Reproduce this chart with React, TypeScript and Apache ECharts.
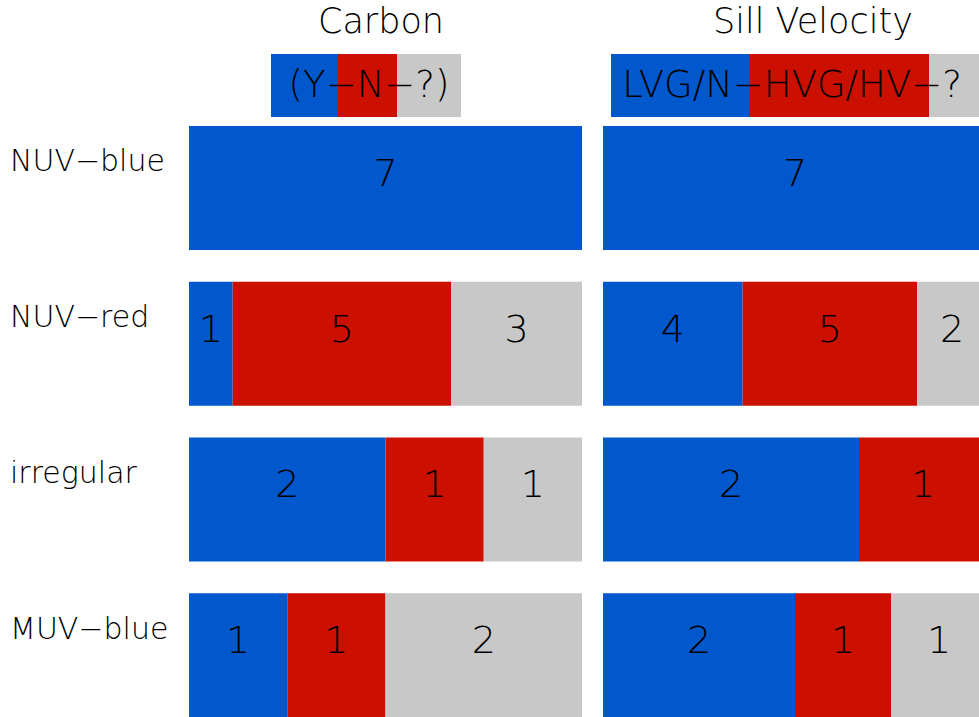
import React, { useEffect, useRef } from 'react';
import * as echarts from 'echarts';

const rowLabels = ['NUV−blue', 'NUV−red', 'irregular', 'MUV−blue'];

// Carbon: yes / no / unknown
const carbonYes = [7, 1, 2, 1];
const carbonNo = [0, 5, 1, 1];
const carbonUnknown = [0, 3, 1, 2];

// Sill velocity: LVG/N / HVG/HV / unknown
const sillLow = [7, 4, 2, 2];
const sillHigh = [0, 5, 1, 1];
const sillUnknown = [0, 2, 0, 1];

const panelTitles = ['Carbon', 'Sill Velocity'];

const BLUE = '#0058cc';
const RED = '#cc1000';
const GRAY = '#c8c8c8';
const FONT = '"DejaVu Sans", sans-serif';

const share = (arr: number[], groups: number[][]) =>
    arr.map((v, i) => {
        const total = groups.reduce((s, g) => s + g[i], 0);
        return total ? v / total : 0;
    });

const makeSeries = (groups: number[][], colors: string[], axisIndex: number) =>
    groups.map((g, k) => ({
        type: 'bar',
        stack: 'p' + axisIndex,
        xAxisIndex: axisIndex,
        yAxisIndex: axisIndex,
        barWidth: 124,
        data: share(g, groups),
        itemStyle: { color: colors[k] },
        label: {
            show: true,
            position: 'inside',
            offset: [0, -15],
            color: '#000',
            fontSize: 38,
            fontFamily: FONT,
            fontWeight: 200,
            formatter: (p: any) => (g[p.dataIndex] > 0 ? String(g[p.dataIndex]) : '')
        }
    }));

const App: React.FC = () => {
    const chartRef = useRef<HTMLDivElement | null>(null);

    useEffect(() => {
        if (!chartRef.current) return;
        const myChart = echarts.init(chartRef.current, null, { renderer: 'svg' });

        const textStyle = (size: number) => ({
            fill: '#000',
            fontSize: size,
            fontFamily: FONT,
            fontWeight: 200,
            align: 'center',
            verticalAlign: 'middle'
        });

        const option = {
            animation: false,
            backgroundColor: '#fff',
            grid: [
                { left: 189, top: 110, width: 393, height: 623, containLabel: false },
                { left: 603, top: 110, width: 384, height: 623, containLabel: false }
            ],
            xAxis: [0, 1].map((i) => ({
                type: 'value',
                gridIndex: i,
                min: 0,
                max: 1,
                show: false
            })),
            yAxis: [0, 1].map((i) => ({
                type: 'category',
                gridIndex: i,
                inverse: true,
                data: rowLabels,
                axisLine: { show: false },
                axisTick: { show: false },
                splitLine: { show: false },
                axisLabel: {
                    show: i === 0,
                    align: 'left',
                    verticalAlign: 'bottom',
                    lineHeight: 54,
                    margin: 179,
                    color: '#000',
                    fontSize: 30,
                    fontFamily: FONT,
                    fontWeight: 200
                }
            })),
            series: [
                ...makeSeries([carbonYes, carbonNo, carbonUnknown], [BLUE, RED, GRAY], 0),
                ...makeSeries([sillLow, sillHigh, sillUnknown], [BLUE, RED, GRAY], 1)
            ],
            graphic: [
                { type: 'text', x: 381, y: 21, style: { text: panelTitles[0], ...textStyle(35) } },
                { type: 'text', x: 813, y: 21, style: { text: panelTitles[1], ...textStyle(35) } },
                { type: 'rect', shape: { x: 271, y: 54, width: 67, height: 63 }, style: { fill: BLUE } },
                { type: 'rect', shape: { x: 338, y: 54, width: 59, height: 63 }, style: { fill: RED } },
                { type: 'rect', shape: { x: 397, y: 54, width: 64, height: 63 }, style: { fill: GRAY } },
                { type: 'text', x: 369, y: 84, style: { text: '(Y−N−?)', ...textStyle(37) } },
                { type: 'rect', shape: { x: 611, y: 54, width: 138, height: 63 }, style: { fill: BLUE } },
                { type: 'rect', shape: { x: 749, y: 54, width: 180, height: 63 }, style: { fill: RED } },
                { type: 'rect', shape: { x: 929, y: 54, width: 58, height: 63 }, style: { fill: GRAY } },
                { type: 'text', x: 792, y: 84, style: { text: 'LVG/N−HVG/HV−?', ...textStyle(37) } }
            ]
        };

        myChart.setOption(option);

        return () => {
            myChart.dispose();
        };
    }, []);

    return (
        <div style={{ position: 'fixed', left: 0, top: 0, width: 979, height: 717, overflow: 'hidden' }}>
            <div ref={chartRef} style={{ width: 1000, height: 760 }} />
        </div>
    );
};

export default App;
